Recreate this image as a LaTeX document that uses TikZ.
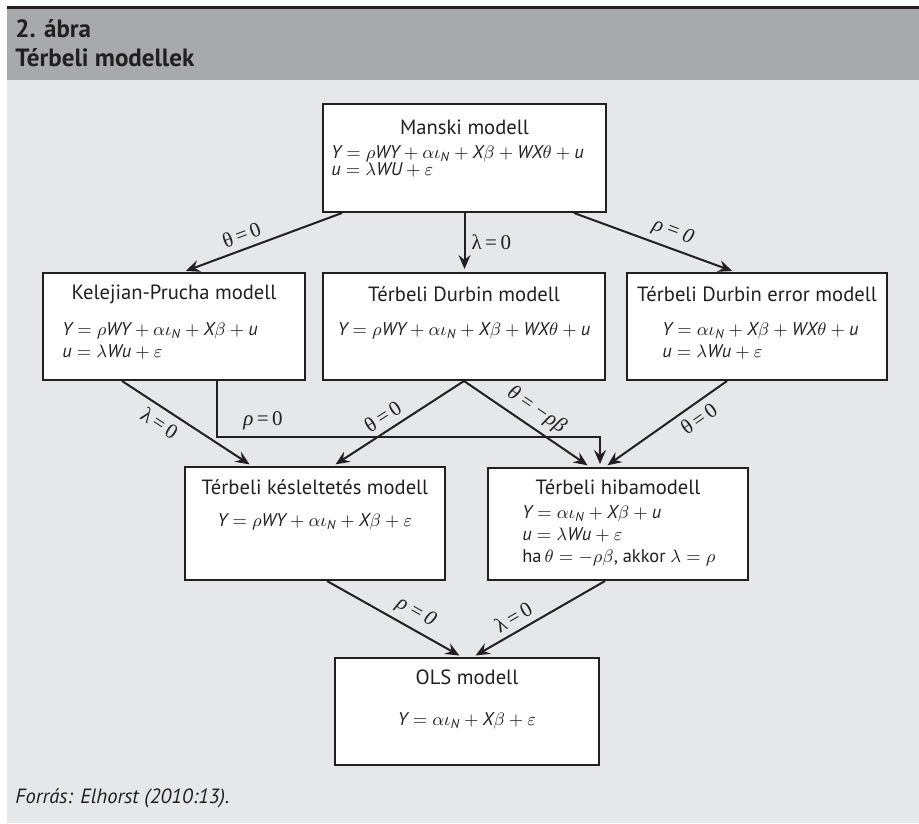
\documentclass[tikz,border=0pt]{standalone}
\usepackage{fontspec}
\setmainfont{PT Sans}
\newfontfamily\lblfont{Liberation Serif}
\usetikzlibrary{calc}
\usetikzlibrary{arrows.meta}
\definecolor{headgrey}{HTML}{A7A9AC}
\definecolor{backgrey}{HTML}{E6E7E8}
\definecolor{inkdark}{HTML}{231F20}
\newcommand{\mi}[1]{\mathit{#1}}

\begin{document}
\begin{tikzpicture}[x=0.5pt,y=-0.5pt,
  model/.style={draw=inkdark,line width=1pt,fill=white,inner sep=0pt},
  title/.style={font=\fontsize{10.3}{12}\selectfont,text=inkdark,inner sep=0pt},
  eqs/.style={font=\fontsize{9.2}{11}\selectfont,text=inkdark,inner sep=0pt,align=left,anchor=north west},
  arr/.style={draw=inkdark,line width=1pt,-{Stealth[length=7pt,width=6pt,inset=2.5pt]},shorten >=1.5pt},
  condflat/.style={font=\lblfont\fontsize{10.5}{12}\selectfont,text=inkdark,inner sep=3pt},
  cond/.style={condflat,sloped}]
  \fill[backgrey] (7,80) rectangle (919,823);
  \fill[headgrey] (7,9) rectangle (919,80);
  \fill[inkdark] (7,6) rectangle (919,9);
  \useasboundingbox (0,0) rectangle (919,823);

  \node[anchor=west,font=\bfseries\fontsize{12.5}{14}\selectfont,text=inkdark,inner sep=0pt] (fignum) at (15,29) {2. ábra};
  \node[anchor=west,font=\bfseries\fontsize{12.5}{14}\selectfont,text=inkdark,inner sep=0pt] (figtitle) at (15,58) {Térbeli modellek};

  \node[model,minimum width=141.5pt,minimum height=54pt] (manski) at (464.5,158) {};
  \node[model,minimum width=131pt,minimum height=53.5pt] (kelejian) at (174,326.5) {};
  \node[model,minimum width=141pt,minimum height=53.5pt] (durbin) at (464,326.5) {};
  \node[model,minimum width=130pt,minimum height=53.5pt] (durbinerr) at (757,326.5) {};
  \node[model,minimum width=130pt,minimum height=56.5pt] (kesl) at (315,523.5) {};
  \node[model,minimum width=130pt,minimum height=56pt] (hiba) at (618,524) {};
  \node[model,minimum width=132pt,minimum height=53.5pt] (ols) at (467,711.5) {};

  \node[title] (manskit) at ($(manski.north)+(0,24)$) {Manski modell};
  \node[eqs] (manskie) at ($(manski.north west)+(9,42)$)
    {$\mi{Y} = \rho\mi{WY} + \alpha\iota_{\mi{N}} + \mi{X}\beta + \mi{WX}\theta + \mi{u}$\\[-2.5pt]
     $\mi{u} = \lambda\mi{WU} + \varepsilon$};
  \node[title] (kelejiant) at ($(kelejian.north)+(0,22)$) {Kelejian-Prucha modell};
  \node[eqs] (kelejiane) at ($(kelejian.north west)+(20,50)$)
    {$\mi{Y} = \rho\mi{WY} + \alpha\iota_{\mi{N}} + \mi{X}\beta + \mi{u}$\\
     $\mi{u} = \lambda\mi{Wu} + \varepsilon$};
  \node[title] (durbint) at ($(durbin.north)+(0,22)$) {Térbeli Durbin modell};
  \node[eqs,anchor=north] (durbine) at ($(durbin.north)+(0,50)$)
    {$\mi{Y} = \rho\mi{WY} + \alpha\iota_{\mi{N}} + \mi{X}\beta + \mi{WX}\theta + \mi{u}$};
  \node[title] (durbinerrt) at ($(durbinerr.north)+(0,22)$) {Térbeli Durbin error modell};
  \node[eqs] (durbinerre) at ($(durbinerr.north west)+(36,50)$)
    {$\mi{Y} = \alpha\iota_{\mi{N}} + \mi{X}\beta + \mi{WX}\theta + \mi{u}$\\
     $\mi{u} = \lambda\mi{Wu} + \varepsilon$};
  \node[title] (keslt) at ($(kesl.north)+(0,21)$) {Térbeli késleltetés modell};
  \node[eqs,anchor=north] (ksele) at ($(kesl.north)+(0,47)$)
    {$\mi{Y} = \rho\mi{WY} + \alpha\iota_{\mi{N}} + \mi{X}\beta + \varepsilon$};
  \node[title] (hibat) at ($(hiba.north)+(0,20)$) {Térbeli hibamodell};
  \node[eqs] (hibae) at ($(hiba.north west)+(35,38)$)
    {$\mi{Y} = \alpha\iota_{\mi{N}} + \mi{X}\beta + \mi{u}$\\
     $\mi{u} = \lambda\mi{Wu} + \varepsilon$\\
     ha$\,\theta = -\rho\beta$, akkor $\lambda = \rho$};
  \node[title] (olst) at ($(ols.north)+(0,20)$) {OLS modell};
  \node[eqs,anchor=north] (olse) at ($(ols.north)+(0,55)$)
    {$\mi{Y} = \alpha\iota_{\mi{N}} + \mi{X}\beta + \varepsilon$};

  \draw[arr] ($(manski.south west)+(20,0)$) -- node[cond,above,pos=.6] {θ\,=\,0} ($(kelejian.north)+(9,0)$);
  \draw[arr] (manski.south) -- node[condflat,right] {λ\,=\,0} (manski.south |- durbin.north);
  \draw[arr] ($(manski.south east)+(-33,0)$) -- node[cond,above,pos=.58] {\textit{ρ\,=\,0}} ($(durbinerr.north)+(-22,0)$);
  \draw[arr] ($(kelejian.south)+(-52,0)$) -- node[cond,below,pos=.35] {λ\,=\,0} ($(kesl.north)+(-63,0)$);
  \draw[arr] ($(kelejian.south)+(43,0)$) |- node[condflat,above,pos=.56] {\textit{ρ}\,=\,0} ($(hiba.north)+(-18,-30)$) -- ($(hiba.north)+(-18,0)$);
  \draw[arr] (durbin.south) -- node[cond,above,pos=.56] {θ\,=\,0} ($(kesl.north)+(18,0)$);
  \draw[arr] (durbin.south) -- node[cond,above,pos=.5] {\textit{θ\,=\,−ρβ}} ($(hiba.north)+(-28,0)$);
  \draw[arr] ($(durbinerr.south)+(-30,0)$) -- node[cond,below,pos=.3] {θ\,=\,0} ($(hiba.north)+(-13,0)$);
  \draw[arr] ($(kesl.south)+(12,0)$) -- node[cond,above,pos=.6] {\textit{ρ\,=\,0}} ($(ols.north)+(-5,0)$);
  \draw[arr] ($(hiba.south)+(-13,0)$) -- node[cond,above,pos=.64] {λ\,=\,0} ($(ols.north)+(6,0)$);

  \node[anchor=west,font=\itshape\fontsize{10.3}{12}\selectfont,text=inkdark,inner sep=0pt] (source) at (15,798) {Forrás: Elhorst (2010:13).};
\end{tikzpicture}
\end{document}
